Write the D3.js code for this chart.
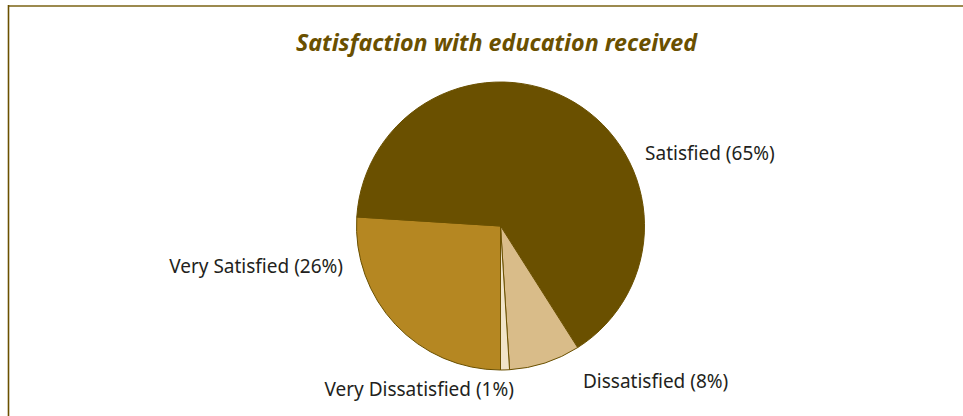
<!DOCTYPE html>
<html>
<head>
<meta charset="utf-8">
<script src="https://cdn.jsdelivr.net/npm/d3@7"></script>
<style>
  html, body { margin: 0; padding: 0; background: #fff; }
  svg { display: block; }
</style>
</head>
<body>
<svg id="chart" width="963" height="416"></svg>
<script>
// Survey responses, drawn clockwise starting from six o'clock
const categories = ["Very Satisfied", "Satisfied", "Dissatisfied", "Very Dissatisfied"];
const shares = [26, 65, 8, 1];
const labels = ["Very Satisfied (26%)", "Satisfied (65%)", "Dissatisfied (8%)", "Very Dissatisfied (1%)"];

// Where each label sits around the pie (degrees clockwise from twelve o'clock, radius factor, anchor)
const labelAngles = [255.75, 63.2, 152, 206.4];
const labelRadius = [1.128, 1.125, 1.22, 1.27];
const labelAnchor = ["end", "start", "start", "middle"];

const sliceColors = ["#b58722", "#6a5000", "#d9bc89", "#f1e4c9"];

const width = 963, height = 416;
const cx = 500.5, cy = 226, radius = 144;

const svg = d3.select("#chart");

// Frame: a tan rule across the top and a dark olive rule down the left side
svg.append("line")
  .attr("x1", 8).attr("x2", width).attr("y1", 6).attr("y2", 6)
  .attr("stroke", "#9c8a4f").attr("stroke-width", 2.2);
svg.append("line")
  .attr("x1", 8.5).attr("x2", 8.5).attr("y1", 5).attr("y2", height)
  .attr("stroke", "#6a5000").attr("stroke-width", 1.6);

svg.append("text")
  .attr("x", 496.5).attr("y", 51)
  .attr("text-anchor", "middle")
  .attr("font-family", "'Noto Sans', 'Open Sans', sans-serif")
  .attr("font-style", "italic")
  .attr("font-weight", "bold")
  .attr("font-size", 24)
  .attr("fill", "#6a5000")
  .attr("textLength", 401)
  .attr("lengthAdjust", "spacingAndGlyphs")
  .text("Satisfaction with education received");

const data = categories.map((c, i) => ({ category: c, value: shares[i], label: labels[i], idx: i }));

const pie = d3.pie()
  .value(d => d.value)
  .sort(null)
  .startAngle(Math.PI)
  .endAngle(3 * Math.PI);

const arc = d3.arc().innerRadius(0).outerRadius(radius);

const g = svg.append("g").attr("transform", `translate(${cx},${cy})`);

g.selectAll("path.slice")
  .data(pie(data))
  .join("path")
  .attr("class", "slice")
  .attr("d", arc)
  .attr("fill", d => sliceColors[d.data.idx])
  .attr("stroke", "#6a5000")
  .attr("stroke-width", 1)
  .attr("stroke-linejoin", "round");

g.selectAll("text.label")
  .data(pie(data))
  .join("text")
  .attr("class", "label")
  .each(function(d) {
    const i = d.data.idx;
    const a = labelAngles[i] * Math.PI / 180;
    const r = radius * labelRadius[i];
    d3.select(this)
      .attr("x", Math.sin(a) * r)
      .attr("y", -Math.cos(a) * r)
      .attr("text-anchor", labelAnchor[i]);
  })
  .attr("dy", "0.35em")
  .attr("font-family", "'Noto Sans', 'Open Sans', sans-serif")
  .attr("font-size", 19)
  .attr("fill", "#231f20")
  .text(d => d.data.label);
</script>
</body>
</html>
